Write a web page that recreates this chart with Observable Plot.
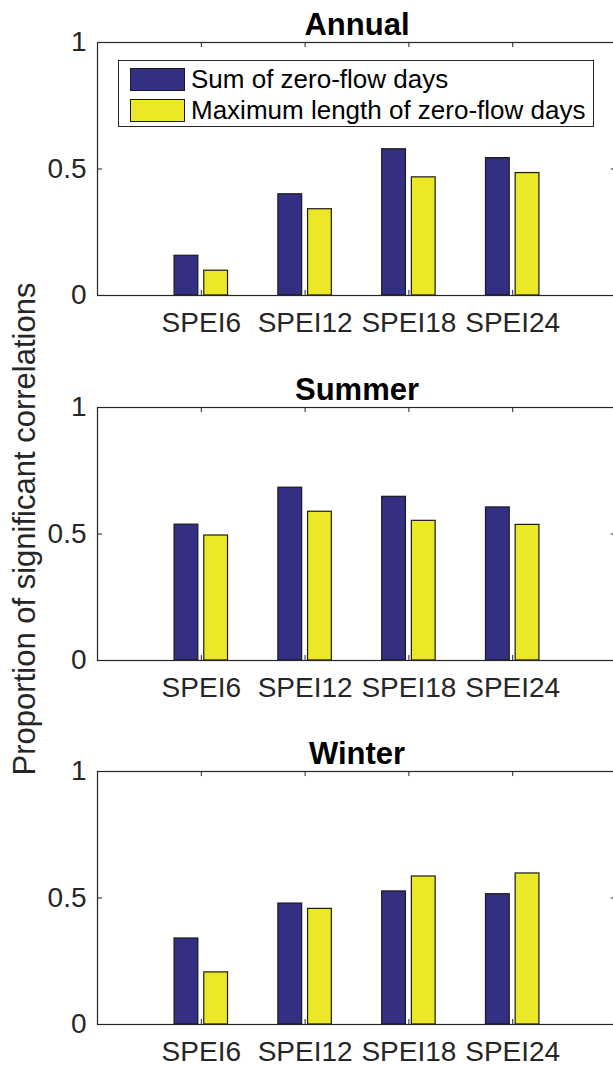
<!DOCTYPE html>
<html><head><meta charset="utf-8">
<script src="https://cdn.jsdelivr.net/npm/d3@7"></script>
<script src="https://cdn.jsdelivr.net/npm/@observablehq/plot@0.6"></script>
<style>
html,body{margin:0;padding:0;background:#fff;overflow:hidden;width:613px;height:1066px;}
#wrap{position:relative;width:613px;height:1066px;overflow:hidden;font-family:"Liberation Sans",Arial,sans-serif;}
.panel{position:absolute;left:0;}
#ylabel{position:absolute;left:24px;top:529px;transform:translate(-50%,-50%) rotate(-90deg);white-space:nowrap;font-size:31px;color:#262626;line-height:1;}
#legend{position:absolute;left:118px;top:60px;width:476px;height:67px;border:1px solid #262626;background:#fff;box-sizing:border-box;}
.li{position:absolute;left:11px;height:24px;display:flex;align-items:center;white-space:nowrap;}
.sw{width:55px;height:23px;box-sizing:border-box;border:1.5px solid #1a1a1a;margin-right:6px;flex:none;}
.lt{font-size:26px;color:#000;line-height:1;}
</style></head><body><div id="wrap"></div>
<script>
// ---- data ----
const categories = ["SPEI6", "SPEI12", "SPEI18", "SPEI24"];
const seriesNames = ["Sum of zero-flow days", "Maximum length of zero-flow days"];
const seriesColors = ["#332F83", "#EDE827"];
const panelTitles = ["Annual", "Summer", "Winter"];
const annualSum = [0.157, 0.400, 0.578, 0.543];
const annualMax = [0.098, 0.341, 0.467, 0.484];
const summerSum = [0.537, 0.683, 0.647, 0.605];
const summerMax = [0.494, 0.588, 0.552, 0.536];
const winterSum = [0.340, 0.478, 0.526, 0.515];
const winterMax = [0.206, 0.457, 0.585, 0.597];
const yTicks = [0, 0.5, 1];
const yTickLabels = ["0", "0.5", "1"];
const yLabel = "Proportion of significant correlations";

// ---- layout ----
const wrap = document.getElementById("wrap");
const panels = [[annualSum, annualMax], [summerSum, summerMax], [winterSum, winterMax]];
const panelTops = [0, 365, 729];
const W = 620, H = 365;
const groupOffset = [-0.143, 0.143], barW = 0.229;
const xt = categories.map((_, i) => i + 1);
const axisColor = "#262626";

panels.forEach((vals, p) => {
  const rows = [];
  vals.forEach((arr, s) => arr.forEach((v, i) => rows.push({cat: i + 1, s, series: seriesNames[s], v})));
  const chart = Plot.plot({
    width: W, height: H,
    marginLeft: 97, marginRight: 4, marginTop: 42, marginBottom: 70,
    x: {domain: [0, 5]},
    y: {domain: [0, 1]},
    color: {domain: seriesNames, range: seriesColors},
    style: {maxWidth: "none", overflow: "visible", background: "transparent", fontFamily: "'Liberation Sans', Arial, sans-serif", color: axisColor},
    marks: [
      Plot.rect(rows, {
        x1: d => d.cat + groupOffset[d.s] - barW / 2,
        x2: d => d.cat + groupOffset[d.s] + barW / 2,
        y1: 0, y2: "v", fill: "series", stroke: "#1a1a1a", strokeWidth: 1.2
      }),
      Plot.ruleX(xt, {x: d => d, y1: 0, y2: 0.02, stroke: axisColor}),
      Plot.ruleX(xt, {x: d => d, y1: 0.98, y2: 1, stroke: axisColor}),
      Plot.ruleY(yTicks, {y: d => d, x1: 0, x2: 0.05, stroke: axisColor}),
      Plot.ruleY(yTicks, {y: d => d, x1: 4.95, x2: 5, stroke: axisColor}),
      Plot.axisX(xt, {tickSize: 0, tickPadding: 17, tickFormat: d => categories[d - 1], fontSize: 28, label: null}),
      Plot.axisY(yTicks, {tickSize: 0, tickPadding: 11, tickFormat: d => yTickLabels[yTicks.indexOf(d)], fontSize: 28, label: null}),
      Plot.frame({stroke: axisColor, strokeWidth: 1.2}),
      Plot.text([panelTitles[p]], {frameAnchor: "top", dy: -8, lineAnchor: "bottom", fontSize: 31, fontWeight: "bold", fill: "#000"})
    ]
  });
  chart.classList.add("panel");
  chart.style.top = panelTops[p] + "px";
  wrap.appendChild(chart);
});

// y label
const yl = document.createElement("div");
yl.id = "ylabel";
yl.textContent = yLabel;
wrap.appendChild(yl);

// legend (colors from the same scale)
const colorScale = Plot.scale({color: {domain: seriesNames, range: seriesColors}});
const lg = document.createElement("div");
lg.id = "legend";
seriesNames.forEach((name, i) => {
  const item = document.createElement("div");
  item.className = "li";
  item.style.top = (6 + i * 31) + "px";
  const sw = document.createElement("div");
  sw.className = "sw";
  sw.style.background = colorScale.apply(name);
  const t = document.createElement("span");
  t.className = "lt";
  t.textContent = name;
  item.appendChild(sw);
  item.appendChild(t);
  lg.appendChild(item);
});
wrap.appendChild(lg);
</script>
</body></html>
